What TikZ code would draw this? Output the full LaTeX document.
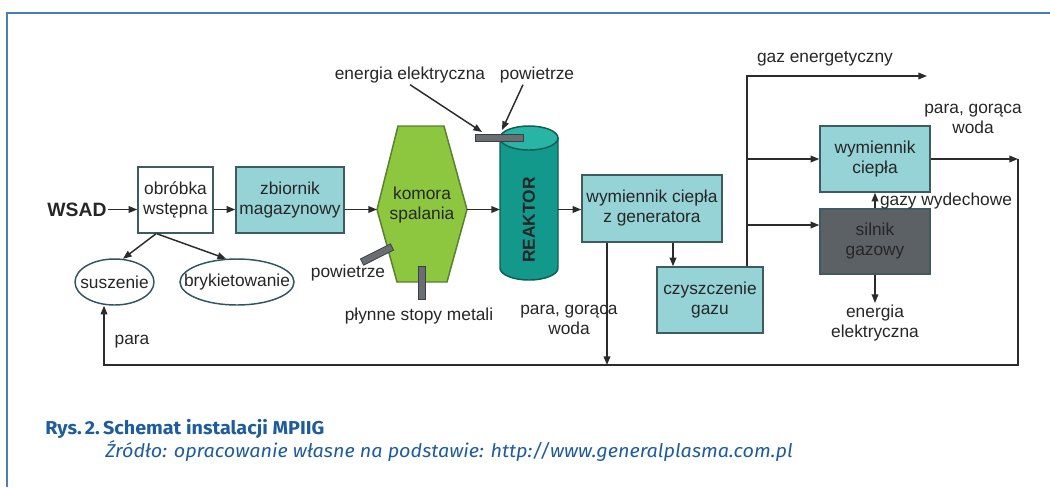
\documentclass[tikz,border=0pt]{standalone}
\usepackage{fontspec}
\setmainfont{Liberation Sans}
\newfontfamily\capfont[FakeStretch=1.06]{Fira Sans}
\usetikzlibrary{arrows.meta,shapes.geometric}
\definecolor{frameblue}{HTML}{4A7EB8}
\definecolor{boxteal}{HTML}{96D3D6}
\definecolor{boxedge}{HTML}{3E5C60}
\definecolor{komgreen}{HTML}{8DC63F}
\definecolor{komedge}{HTML}{5A7F2E}
\definecolor{reaktor}{HTML}{12998B}
\definecolor{reaktortop}{HTML}{29B5A6}
\definecolor{reakedge}{HTML}{0E5E55}
\definecolor{engine}{HTML}{5C6165}
\definecolor{bargray}{HTML}{6A6E72}
\definecolor{baredge}{HTML}{3D4043}
\definecolor{linec}{HTML}{2B2B2B}
\definecolor{elledge}{HTML}{2F5563}
\definecolor{ink}{HTML}{262626}
\definecolor{capblue}{HTML}{1E5C9C}
\begin{document}
\begin{tikzpicture}[x=0.75pt,y=0.75pt,
  every node/.style={font=\fontsize{13}{15}\selectfont, text=ink},
  wh/.style 2 args={minimum width=#1*0.75pt, minimum height=#2*0.75pt},
  box/.style={draw=boxedge, line width=1.1pt, fill=boxteal, align=center, inner sep=0pt},
  ell/.style={ellipse, draw=elledge, line width=1.1pt, fill=white, inner sep=0pt},
  lbl/.style={align=center, inner sep=1pt},
  conn/.style={draw=linec, line width=1.1pt},
  arr/.style={conn, -{Triangle[length=6.5pt,width=5pt]}},
  barstyle/.style={fill=bargray, draw=baredge, line width=0.6pt},
]
\useasboundingbox (0,0) rectangle (1050,-487);
\draw[frameblue, line width=1.6pt] (7,-487) -- (7,-13) -- (1050,-13);

% left part
\node[lbl, font=\fontsize{14.5}{16}\selectfont\bfseries] (wsad) at (77,-209.5) {WSAD};
\node[box, fill=white, wh={75}{66}] (obr) at (175.5,-200) {obróbka\\wstępna};
\node[box, wh={108}{66}] (zb) at (290,-200) {zbiornik\\magazynowy};
\node[ell, wh={79}{46}] (su) at (114.5,-282) {\makebox[0pt]{suszenie}};
\node[ell, wh={114}{46}] (bk) at (237,-282) {\makebox[0pt]{brykietowanie}};

% komora spalania
\draw[fill=komgreen, draw=komedge, line width=1.1pt] (398,-126) -- (444,-126) -- (467,-209.5) -- (447,-282) -- (397,-282) -- (377,-209.5) -- cycle;
\coordinate (komL) at (377,-209.5);
\coordinate (komR) at (467,-209.5);
\node[lbl] (kom) at (422,-205) {komora\\spalania};
\draw[barstyle, rotate around={26.6:(377,-254.5)}] (360.25,-258) rectangle (393.75,-251);
\draw[barstyle] (418.5,-266) rectangle (425.5,-299);
\node[lbl] (pow2) at (348,-273) {powietrze};
\node[lbl] (plyn) at (419,-316) {płynne stopy metali};

% reaktor
\draw[fill=reaktor, draw=reakedge, line width=1.1pt] (500,-138) -- (500,-268) arc[start angle=180,end angle=360,x radius=21.75pt,y radius=9pt] -- (558,-138);
\draw[fill=reaktortop, draw=reakedge, line width=1.1pt] (529,-138) ellipse [x radius=21.75pt, y radius=9pt];
\node[rotate=90, font=\fontsize{13}{15}\selectfont\bfseries] (rea) at (529,-220) {REAKTOR};
\coordinate (reaL) at (500,-209.5);
\coordinate (reaR) at (558,-209.5);
\draw[barstyle] (475,-134.5) rectangle (523,-141.5);
\coordinate (barA) at (482,-132);
\coordinate (barB) at (502,-130);
\node[lbl] (eel) at (410,-75) {energia elektryczna};
\node[lbl] (pow1) at (537,-75) {powietrze};
\draw[arr] (eel.south) -- (barA);
\draw[arr] ([xshift=-10.5pt]pow1.south) -- (barB);
\node[lbl] (pgw1) at (569,-320) {para, gorąca\\woda};

% right part
\node[box, wh={140}{67}] (wg) at (652,-208.5) {wymiennik ciepła\\z generatora};
\node[box, wh={106}{66}] (cz) at (710,-300) {czyszczenie\\gazu};
\node[box, wh={110}{66}] (wc) at (875,-159) {wymiennik\\ciepła};
\node[box, fill=engine, wh={110}{65}] (sg) at (875,-241.5) {silnik\\gazowy};
\node[lbl] (gazE) at (825,-59) {gaz energetyczny};
\node[lbl] (pgw2) at (973,-119) {para, gorąca\\woda};
\node[lbl] (gw) at (946,-201) {gazy wydechowe};
\node[lbl, anchor=north] (ee2) at (875,-303) {energia\\elektryczna};
\node[lbl] (para) at (132,-342) {para};

% coordinates
\coordinate (gd) at (607,-365);
\coordinate (x673) at (673,0);
\coordinate (vx) at (747,-76);
\coordinate (gazEnd) at (927,-76);
\coordinate (j1) at (747,-159);
\coordinate (j2) at (747,-225);
\coordinate (rt) at (1018,-159);
\coordinate (rb) at (1018,-365);
\coordinate (bl) at (104,-365);

% connectors
\draw[arr] (wsad.east) -- (obr.west |- wsad.east);
\draw[arr] (obr.east |- wsad.east) -- (zb.west |- wsad.east);
\draw[arr] (zb.east |- wsad.east) -- (komL);
\draw[arr] (komR) -- (reaL);
\draw[arr] (reaR) -- (wg.west |- reaR);
\draw[arr] ([xshift=-14.6pt]obr.south) -- (su.70);
\draw[arr] ([xshift=-14pt]obr.south) -- (bk.115);
\draw[arr] (wg.south -| gd) -- (gd);
\draw[arr] (wg.south -| x673) -- (cz.north -| x673);
\draw[arr] (cz.north -| vx) -- (vx) -- (gazEnd);
\draw[arr] (j1) -- (wc.west);
\draw[arr] (j2) -- (sg.west |- j2);
\draw[arr] (sg.north) -- (wc.south);
\draw[arr] (sg.south) -- (ee2.north);
\draw[arr] (wc.east) -- (rt);
\draw[arr] (rt) -- (rb) -- (bl) -- (bl |- su.south);

% caption
\node[anchor=base west, inner sep=0pt, text=capblue, font=\capfont\fontsize{14}{16}\selectfont\bfseries] (cap1) at (45,-434) {Rys.\,2.\,Schemat instalacji MPIIG};
\node[anchor=base west, inner sep=0pt, text=capblue, font=\capfont\fontsize{14}{16}\selectfont\itshape] (cap2) at (105,-457) {Źródło: opracowanie własne na podstawie: http://www.generalplasma.com.pl};
\end{tikzpicture}
\end{document}
